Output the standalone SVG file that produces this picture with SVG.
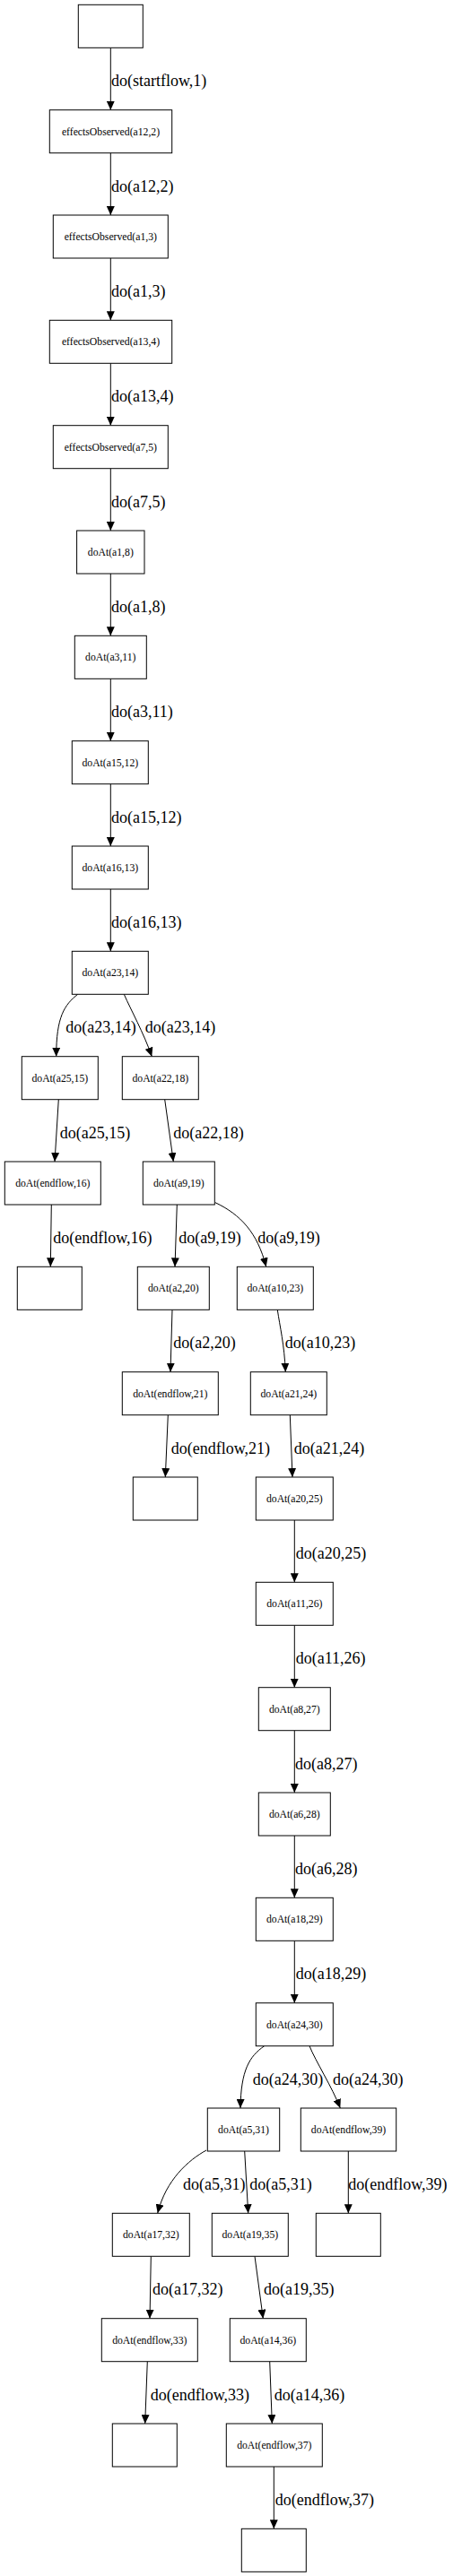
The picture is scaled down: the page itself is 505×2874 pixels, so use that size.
<svg xmlns="http://www.w3.org/2000/svg" width="505" height="2874" viewBox="0 0 505 2874">
<style>
.n rect{fill:#fff;stroke:#000;stroke-width:1}
.n text{font-family:"Liberation Serif",serif;font-size:11.7px;text-anchor:middle;fill:#000}
.e path{fill:none;stroke:#000;stroke-width:1;marker-end:url(#ah)}
.e text{font-family:"Liberation Serif",serif;font-size:18px;fill:#000}
</style>
<defs>
<marker id="ah" viewBox="0 0 10 9" refX="10" refY="4.5" markerWidth="10" markerHeight="9" markerUnits="userSpaceOnUse" orient="auto">
<path d="M0,0 L10,4.5 L0,9 z" fill="#000"/>
</marker>
</defs>
<rect width="505" height="2874" fill="#fff"/>
<g class="e" id="connectors">
<path d="M123.3,53.3 V122.7"/><text x="124" y="96.3">do(startflow,1)</text>
<path d="M123.3,170.7 V240"/><text x="124" y="213.7">do(a12,2)</text>
<path d="M123.3,288 V357.3"/><text x="124" y="331">do(a1,3)</text>
<path d="M123.3,405.3 V474.7"/><text x="124" y="448.3">do(a13,4)</text>
<path d="M123.3,522.7 V592"/><text x="124" y="565.7">do(a7,5)</text>
<path d="M123.3,640 V709.3"/><text x="124" y="683">do(a1,8)</text>
<path d="M123.3,757.3 V826.7"/><text x="124" y="800.3">do(a3,11)</text>
<path d="M123.3,874.7 V944"/><text x="124" y="917.7">do(a15,12)</text>
<path d="M123.3,992 V1061.3"/><text x="124" y="1035">do(a16,13)</text>
<path d="M86.7,1109.3 C72,1121 62.7,1134 62.7,1178.7"/><text x="73.3" y="1152.3">do(a23,14)</text>
<path d="M138.3,1109.3 C146,1127 160,1152 169.3,1178.7"/><text x="161.7" y="1152.3">do(a23,14)</text>
<path d="M65.3,1226.7 L61,1296"/><text x="66.7" y="1269.7">do(a25,15)</text>
<path d="M183.7,1226.7 L193.3,1296"/><text x="193.3" y="1269.7">do(a22,18)</text>
<path d="M57.3,1344 L56.3,1413.3"/><text x="59.3" y="1387">do(endflow,16)</text>
<path d="M197.3,1344 L195,1413.3"/><text x="199.3" y="1387">do(a9,19)</text>
<path d="M240,1341.7 C268,1355 287,1375 296.7,1413.3"/><text x="287.3" y="1387">do(a9,19)</text>
<path d="M192,1461.3 L190,1530.7"/><text x="193.3" y="1504.3">do(a2,20)</text>
<path d="M309.3,1461.3 C312,1480 317,1500 318.3,1530.7"/><text x="317.7" y="1504.3">do(a10,23)</text>
<path d="M187.3,1578.7 L184.3,1648"/><text x="190.7" y="1621.7">do(endflow,21)</text>
<path d="M323.3,1578.7 L326,1648"/><text x="327.7" y="1621.7">do(a21,24)</text>
<path d="M328.3,1696 V1765.3"/><text x="329.7" y="1739">do(a20,25)</text>
<path d="M328.3,1813.3 V1882.7"/><text x="329.7" y="1856.3">do(a11,26)</text>
<path d="M328.3,1930.7 V2000"/><text x="329" y="1973.7">do(a8,27)</text>
<path d="M328.3,2048 V2117.3"/><text x="329" y="2091">do(a6,28)</text>
<path d="M328.3,2165.3 V2234.7"/><text x="329.7" y="2208.3">do(a18,29)</text>
<path d="M294.7,2282.7 C278,2294 268.5,2310 268,2352"/><text x="281.7" y="2325.7">do(a24,30)</text>
<path d="M345,2282.7 C352,2300 370,2328 379.3,2352"/><text x="371" y="2325.7">do(a24,30)</text>
<path d="M230,2399 C210,2410 185,2432 175.7,2469.3"/><text x="204" y="2443">do(a5,31)</text>
<path d="M272.7,2400 L276.7,2469.3"/><text x="278.3" y="2443">do(a5,31)</text>
<path d="M388.3,2400 V2469.3"/><text x="388.3" y="2443">do(endflow,39)</text>
<path d="M168.3,2517.3 L167,2586.7"/><text x="170" y="2560.3">do(a17,32)</text>
<path d="M284,2517.3 L293.3,2586.7"/><text x="294" y="2560.3">do(a19,35)</text>
<path d="M164.3,2634.7 L161.7,2704"/><text x="167.7" y="2677.7">do(endflow,33)</text>
<path d="M300.7,2634.7 L303.3,2704"/><text x="305.7" y="2677.7">do(a14,36)</text>
<path d="M305.3,2752 V2821.3"/><text x="306.7" y="2795">do(endflow,37)</text>
</g>
<g class="n" id="start"><rect x="87.3" y="5.3" width="72" height="48"/></g>
<g class="n" id="eo_a12_2"><rect x="55.3" y="122.7" width="136.4" height="48"/><text x="123.5" y="150.7">effectsObserved(a12,2)</text></g>
<g class="n" id="eo_a1_3"><rect x="59.3" y="240" width="128" height="48"/><text x="123.3" y="268">effectsObserved(a1,3)</text></g>
<g class="n" id="eo_a13_4"><rect x="55.3" y="357.3" width="136.4" height="48"/><text x="123.5" y="385.3">effectsObserved(a13,4)</text></g>
<g class="n" id="eo_a7_5"><rect x="59.3" y="474.7" width="128" height="48"/><text x="123.3" y="502.7">effectsObserved(a7,5)</text></g>
<g class="n" id="doAt_a1_8"><rect x="85.6" y="592" width="75.4" height="48"/><text x="123.3" y="620">doAt(a1,8)</text></g>
<g class="n" id="doAt_a3_11"><rect x="83.3" y="709.3" width="80" height="48"/><text x="123.3" y="737.3">doAt(a3,11)</text></g>
<g class="n" id="doAt_a15_12"><rect x="80.3" y="826.7" width="85" height="48"/><text x="122.8" y="854.7">doAt(a15,12)</text></g>
<g class="n" id="doAt_a16_13"><rect x="80.3" y="944" width="85" height="48"/><text x="122.8" y="972">doAt(a16,13)</text></g>
<g class="n" id="doAt_a23_14"><rect x="80.3" y="1061.3" width="85" height="48"/><text x="122.8" y="1089.3">doAt(a23,14)</text></g>
<g class="n" id="doAt_a25_15"><rect x="24.3" y="1178.7" width="85" height="48"/><text x="66.8" y="1206.7">doAt(a25,15)</text></g>
<g class="n" id="doAt_a22_18"><rect x="136.3" y="1178.7" width="85" height="48"/><text x="178.8" y="1206.7">doAt(a22,18)</text></g>
<g class="n" id="doAt_endflow_16"><rect x="5.3" y="1296" width="107" height="48"/><text x="58.8" y="1324">doAt(endflow,16)</text></g>
<g class="n" id="doAt_a9_19"><rect x="159.3" y="1296" width="80" height="48"/><text x="199.3" y="1324">doAt(a9,19)</text></g>
<g class="n" id="end16"><rect x="19.3" y="1413.3" width="72" height="48"/></g>
<g class="n" id="doAt_a2_20"><rect x="153.3" y="1413.3" width="80" height="48"/><text x="193.3" y="1441.3">doAt(a2,20)</text></g>
<g class="n" id="doAt_a10_23"><rect x="264.3" y="1413.3" width="85" height="48"/><text x="306.8" y="1441.3">doAt(a10,23)</text></g>
<g class="n" id="doAt_endflow_21"><rect x="136.3" y="1530.7" width="107" height="48"/><text x="189.8" y="1558.7">doAt(endflow,21)</text></g>
<g class="n" id="doAt_a21_24"><rect x="279.3" y="1530.7" width="85" height="48"/><text x="321.8" y="1558.7">doAt(a21,24)</text></g>
<g class="n" id="end21"><rect x="148.3" y="1648" width="72" height="48"/></g>
<g class="n" id="doAt_a20_25"><rect x="285.3" y="1648" width="86" height="48"/><text x="328.3" y="1676">doAt(a20,25)</text></g>
<g class="n" id="doAt_a11_26"><rect x="285.3" y="1765.3" width="86" height="48"/><text x="328.3" y="1793.3">doAt(a11,26)</text></g>
<g class="n" id="doAt_a8_27"><rect x="288.3" y="1882.7" width="80" height="48"/><text x="328.3" y="1910.7">doAt(a8,27)</text></g>
<g class="n" id="doAt_a6_28"><rect x="288.3" y="2000" width="80" height="48"/><text x="328.3" y="2028">doAt(a6,28)</text></g>
<g class="n" id="doAt_a18_29"><rect x="285.3" y="2117.3" width="86" height="48"/><text x="328.3" y="2145.3">doAt(a18,29)</text></g>
<g class="n" id="doAt_a24_30"><rect x="285.3" y="2234.7" width="86" height="48"/><text x="328.3" y="2262.7">doAt(a24,30)</text></g>
<g class="n" id="doAt_a5_31"><rect x="231.3" y="2352" width="80.4" height="48"/><text x="271.5" y="2380">doAt(a5,31)</text></g>
<g class="n" id="doAt_endflow_39"><rect x="335.3" y="2352" width="106.4" height="48"/><text x="388.5" y="2380">doAt(endflow,39)</text></g>
<g class="n" id="doAt_a17_32"><rect x="125.3" y="2469.3" width="86" height="48"/><text x="168.3" y="2497.3">doAt(a17,32)</text></g>
<g class="n" id="doAt_a19_35"><rect x="236.3" y="2469.3" width="85" height="48"/><text x="278.8" y="2497.3">doAt(a19,35)</text></g>
<g class="n" id="end39"><rect x="352.3" y="2469.3" width="72" height="48"/></g>
<g class="n" id="doAt_endflow_33"><rect x="113.3" y="2586.7" width="107" height="48"/><text x="166.8" y="2614.7">doAt(endflow,33)</text></g>
<g class="n" id="doAt_a14_36"><rect x="256.3" y="2586.7" width="85" height="48"/><text x="298.8" y="2614.7">doAt(a14,36)</text></g>
<g class="n" id="end33"><rect x="125.3" y="2704" width="72" height="48"/></g>
<g class="n" id="doAt_endflow_37"><rect x="252.3" y="2704" width="107" height="48"/><text x="305.8" y="2732">doAt(endflow,37)</text></g>
<g class="n" id="end37"><rect x="269.3" y="2821.3" width="72" height="48"/></g>
</svg>
